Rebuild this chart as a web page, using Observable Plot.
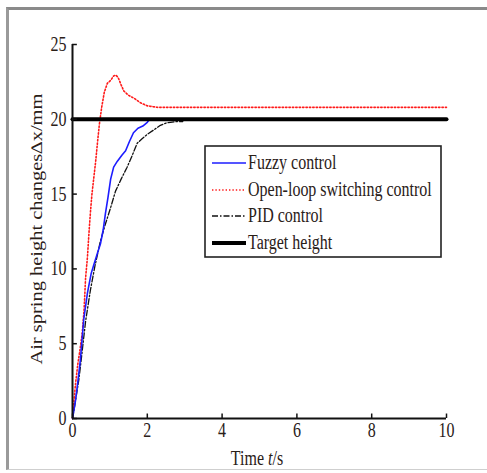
<!DOCTYPE html>
<html>
<head>
<meta charset="utf-8">
<script src="https://cdn.jsdelivr.net/npm/d3@7"></script>
<script src="https://cdn.jsdelivr.net/npm/@observablehq/plot@0.6"></script>
<style>
  html, body { margin: 0; padding: 0; background: #fff; }
  #wrap { position: relative; width: 487px; height: 473px; overflow: hidden; }
  #frame { position: absolute; left: 6px; top: 7px; width: 490px; height: 463px;
           border-top: 3px solid #8a8a8a; border-left: 3px solid #9a9a9a;
           border-bottom: 1px solid #cfcfcf; box-sizing: border-box; }
  #chart { position: absolute; left: 0; top: 0; }
</style>
</head>
<body>
<div id="wrap"><div id="frame"></div><div id="chart"></div></div>
<script>
// ---- data ----
const fuzzyT = [0, 0.04, 0.08, 0.14, 0.21, 0.3, 0.4, 0.5, 0.56, 0.66, 0.75, 0.82, 0.88, 0.95, 1.02, 1.1, 1.2, 1.32, 1.42, 1.52, 1.63, 1.75, 1.88, 2.0, 2.06];
const fuzzyV = [0, 0.6, 1.2, 2.4, 3.9, 6.6, 8.4, 9.7, 10.2, 11.0, 11.7, 12.6, 13.7, 14.8, 16.0, 16.8, 17.2, 17.6, 17.9, 18.5, 19.1, 19.4, 19.55, 19.8, 20.0];
const openT = [0, 0.04, 0.08, 0.14, 0.2, 0.26, 0.31, 0.35, 0.4, 0.44, 0.48, 0.52, 0.57, 0.62, 0.67, 0.72, 0.78, 0.85, 0.93, 1.02, 1.1, 1.16, 1.22, 1.3, 1.37, 1.5, 1.65, 1.82, 2.0, 2.27, 2.6, 3.0, 4, 5, 6, 7, 8, 9, 10];
const openV = [0, 1.2, 2.3, 3.6, 4.6, 5.7, 7.3, 9.4, 10.8, 12.4, 13.8, 15.0, 16.1, 17.2, 18.5, 19.7, 20.8, 21.8, 22.4, 22.6, 22.9, 22.95, 22.8, 22.3, 21.9, 21.6, 21.4, 21.1, 20.9, 20.8, 20.8, 20.8, 20.8, 20.8, 20.8, 20.8, 20.8, 20.8, 20.8];
const pidT = [0, 0.05, 0.1, 0.17, 0.25, 0.35, 0.48, 0.6, 0.75, 0.88, 1.02, 1.15, 1.3, 1.46, 1.6, 1.73, 1.86, 2.0, 2.18, 2.35, 2.5, 2.62, 2.78, 2.95];
const pidV = [0, 0.7, 1.5, 2.6, 4.3, 6.5, 8.6, 10.2, 11.9, 13.0, 14.1, 15.2, 16.0, 16.8, 17.6, 18.4, 18.7, 19.0, 19.3, 19.6, 19.75, 19.8, 19.85, 19.85];
const targetT = [0, 10];
const targetV = [20, 20];
const xTicks = [0, 2, 4, 6, 8, 10];
const yTicks = [0, 5, 10, 15, 20, 25];
const legendLabels = ["Fuzzy control", "Open-loop switching control", "PID control", "Target height"];

const toRows = (ts, vs) => ts.map((t, i) => ({t, v: vs[i]}));
const fuzzy = toRows(fuzzyT, fuzzyV);
const open = toRows(openT, openV);
const pid = toRows(pidT, pidV);
const target = toRows(targetT, targetV);

const FONT = "'Liberation Serif', 'Times New Roman', serif";
const txtColor = "#2a2018";

const plot = Plot.plot({
  width: 487,
  height: 473,
  marginLeft: 72,
  marginRight: 41,
  marginTop: 44,
  marginBottom: 55,
  style: {fontFamily: FONT, fontSize: "15px", color: txtColor, background: "transparent", overflow: "visible"},
  x: {domain: [0, 10], axis: null},
  y: {domain: [0, 25], axis: null},
  marks: [
    Plot.line(open, {x: "t", y: "v", stroke: "#ff1a1a", strokeWidth: 1.6, strokeDasharray: "1.4,2"}),
    Plot.line(pid, {x: "t", y: "v", stroke: "#111", strokeWidth: 1.3, strokeDasharray: "6,2,1.5,2"}),
    Plot.line(fuzzy, {x: "t", y: "v", stroke: "#1c1cff", strokeWidth: 1.6}),
    Plot.line(target, {x: "t", y: "v", stroke: "#000", strokeWidth: 4}),
    // axes lines
    Plot.ruleY([0], {x1: 0, x2: 10, stroke: "#111", strokeWidth: 2}),
    Plot.ruleX([0], {y1: 0, y2: 25, stroke: "#111", strokeWidth: 2}),
    // inward ticks
    Plot.ruleX(xTicks, {x: d => d, y1: 0, y2: 0.3, stroke: "#111", strokeWidth: 1.5}),
    Plot.ruleY(yTicks, {y: d => d, x1: 0, x2: 0.13, stroke: "#111", strokeWidth: 1.5}),
    // tick labels
    Plot.text(xTicks, {x: d => d, y: 0, text: d => String(d), dy: 17, fill: txtColor, fontSize: 16, className: "stretch"}),
    Plot.text(yTicks, {x: 0, y: d => d, text: d => String(d), dx: -6, textAnchor: "end", fill: txtColor, fontSize: 16, className: "stretch"})
  ]
});

document.getElementById("chart").appendChild(plot);
const svg = d3.select(plot);

// axis labels
const xl = svg.append("text").attr("class", "stretch")
  .attr("x", 257).attr("y", 460).attr("text-anchor", "middle").attr("dominant-baseline", "middle")
  .attr("font-family", FONT).attr("font-size", 16).attr("fill", txtColor);
xl.append("tspan").text("Time ");
xl.append("tspan").attr("font-style", "italic").text("t");
xl.append("tspan").text("/s");

svg.append("text").attr("class", "stretch")
  .attr("transform", "translate(38,229) rotate(-90)")
  .attr("text-anchor", "middle").attr("dominant-baseline", "middle")
  .attr("font-family", FONT).attr("font-size", 16).attr("fill", txtColor)
  .text("Air spring height changes\u2206x/mm");

// legend
const lg = svg.append("g");
lg.append("rect").attr("x", 205).attr("y", 146).attr("width", 236).attr("height", 111)
  .attr("fill", "#fff").attr("stroke", "#222").attr("stroke-width", 1.6);
const styles = [
  {stroke: "#1c1cff", w: 1.6, dash: null},
  {stroke: "#ff1a1a", w: 1.6, dash: "1.4,2"},
  {stroke: "#111", w: 1.3, dash: "6,2,1.5,2"},
  {stroke: "#000", w: 4, dash: null}
];
const rowsY = [163, 190, 216, 243];
legendLabels.forEach((lab, i) => {
  const s = styles[i];
  lg.append("line").attr("x1", 212).attr("x2", 246).attr("y1", rowsY[i]).attr("y2", rowsY[i])
    .attr("stroke", s.stroke).attr("stroke-width", s.w).attr("stroke-dasharray", s.dash);
  lg.append("text").attr("class", "stretch").attr("x", 248).attr("y", rowsY[i] + 1)
    .attr("text-anchor", "start")
    .attr("dominant-baseline", "middle").attr("font-family", FONT).attr("font-size", 16)
    .attr("fill", txtColor).text(lab);
});

// vertical stretch of text like the reference
plot.querySelectorAll(".stretch text, text.stretch").forEach(t => {
  const b = t.getBBox();
  const ctm = t.getCTM();
  const p = plot.createSVGPoint();
  p.x = b.x + b.width / 2; p.y = b.y + b.height / 2;
  const c = p.matrixTransform(ctm);
  const g = document.createElementNS("http://www.w3.org/2000/svg", "g");
  g.setAttribute("transform", `translate(0,${c.y}) scale(1,1.28) translate(0,${-c.y})`);
  t.parentNode.insertBefore(g, t);
  g.appendChild(t);
});
</script>
</body>
</html>
